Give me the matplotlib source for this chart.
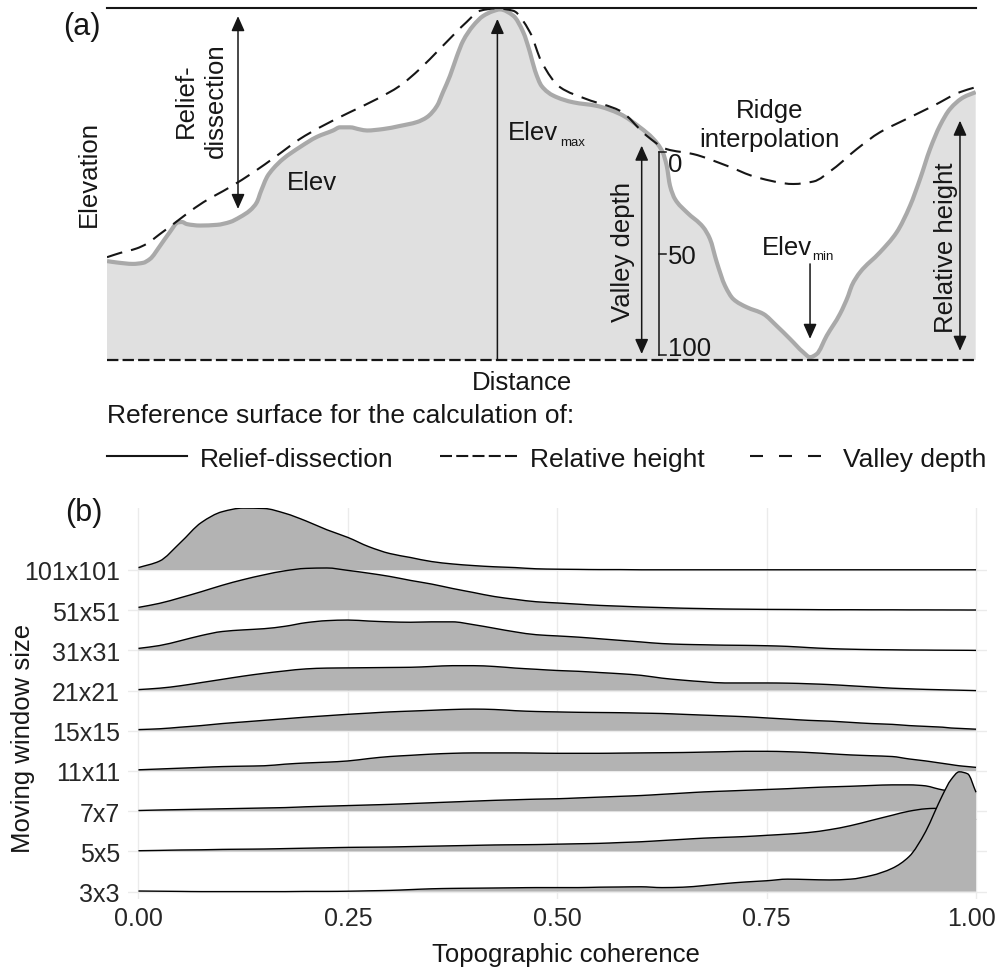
import numpy as np
import matplotlib
matplotlib.use("Agg")
import matplotlib.pyplot as plt
from matplotlib.lines import Line2D
from matplotlib.path import Path
from matplotlib.patches import PathPatch
from matplotlib.transforms import ScaledTranslation

plt.rcParams['font.family'] = ['Liberation Sans', 'DejaVu Sans']
plt.rcParams['lines.scale_dashes'] = False

W, H = 998, 970

# ---------------- panel (a): schematic elevation profile ----------------
profile_dist = [0.0, 1.15, 2.99, 4.14, 4.95, 6.1, 7.25, 8.17, 8.63, 9.21, 10.72, 12.66,
                14.16, 15.31, 16.46, 17.27, 17.61, 17.96, 18.42, 19.11, 20.26, 22.22,
                24.17, 26.02, 26.82, 27.97, 29.12, 29.93, 31.77, 33.73, 35.69, 36.84,
                37.99, 38.68, 39.48, 40.29, 40.98, 42.13, 43.28, 44.43, 45.24, 46.77,
                47.92, 48.69, 49.27, 50.04, 51.38, 53.68, 56.37, 59.05, 61.35, 62.89,
                63.97, 64.43, 64.81, 65.39, 66.73, 68.64, 69.41, 70.19, 71.14, 72.1,
                73.64, 75.55, 77.09, 78.62, 80.15, 80.93, 81.7, 82.85, 84.38, 85.33,
                85.73, 86.68, 88.98, 90.91, 92.44, 93.59, 94.74, 95.89, 97.04, 98.57, 100.0]
profile_elev = [28.1, 27.7, 27.3, 27.6, 28.7, 32.4, 36.4, 39.1, 39.2, 38.6, 38.2, 38.4,
                39.2, 40.6, 42.5, 44.9, 47.2, 49.4, 52.0, 54.3, 57.1, 60.5,
                63.4, 65.2, 66.1, 66.1, 65.5, 65.2, 65.6, 66.5, 67.6, 69.0,
                72.2, 76.1, 80.7, 86.4, 90.6, 94.9, 97.7, 99.1, 99.6, 97.8,
                93.1, 87.4, 82.2, 77.8, 75.1, 73.2, 72.2, 69.9, 66.1, 62.8,
                59.0, 55.2, 49.5, 45.7, 42.0, 37.7, 34.4, 27.8, 21.1, 17.3,
                15.0, 13.1, 9.7, 6.0, 2.2, 0.8, 1.7, 6.9, 13.1, 18.3,
                21.1, 24.9, 30.6, 36.3, 43.8, 51.4, 59.9, 66.6, 71.3, 74.6, 76.1]

ridge_dist = [0.0, 1.5, 3.42, 4.57, 6.1, 7.63, 9.17, 11.08, 14.15, 16.84, 19.53, 22.21,
              24.51, 27.96, 31.04, 33.72, 36.02, 38.32, 41.39, 42.92, 44.88, 46.77,
              48.69, 50.04, 52.15, 55.22, 59.05, 62.13, 64.43, 67.49, 71.34, 74.79,
              79.0, 81.31, 83.61, 86.3, 88.98, 92.06, 95.12, 98.19, 100.0]
ridge_elev = [29.2, 30.4, 31.7, 33.0, 35.8, 38.6, 41.5, 44.8, 49.1, 53.3, 58.0, 62.8,
              66.1, 70.4, 74.1, 77.9, 82.7, 88.4, 96.0, 99.2, 99.9, 99.2,
              93.1, 84.6, 77.5, 74.1, 70.8, 63.7, 59.9, 58.5, 55.2, 51.9,
              50.0, 50.7, 54.3, 59.9, 64.7, 68.5, 72.2, 76.1, 77.5]

relief_level = 100.0      # reference surface for relief-dissection
base_level = 0.0          # reference surface for relative height
scale_ticks = [0, 50, 100]

# ---------------- panel (b): ridgeline densities ----------------
coherence = [0.0, 0.025, 0.05, 0.075, 0.1, 0.125, 0.15, 0.175, 0.2, 0.225, 0.25, 0.275,
             0.3, 0.325, 0.35, 0.375, 0.4, 0.425, 0.45, 0.475, 0.5, 0.525, 0.55, 0.575,
             0.6, 0.625, 0.65, 0.675, 0.7, 0.725, 0.75, 0.775, 0.8, 0.825, 0.85, 0.875,
             0.9, 0.92, 0.94, 0.95, 0.96, 0.97, 0.98, 0.99, 1.0]

window_labels = ['3x3', '5x5', '7x7', '11x11', '15x15', '21x21', '31x31', '51x51', '101x101']

dens_3 = [0.015, 0.01, 0.005, 0.0, 0.0, 0.0, 0.0, 0.0, 0.005, 0.005,
          0.01, 0.02, 0.03, 0.05, 0.07, 0.08, 0.085, 0.09, 0.095, 0.10,
          0.10, 0.10, 0.11, 0.115, 0.12, 0.10, 0.11, 0.15, 0.20, 0.24,
          0.27, 0.31, 0.30, 0.29, 0.31, 0.40, 0.58,
          0.87, 1.50, 1.95, 2.40, 2.78, 2.98, 2.93, 2.47]
dens_5 = [0.017, 0.025, 0.035, 0.04, 0.05, 0.055, 0.06, 0.07, 0.08, 0.09,
          0.10, 0.105, 0.11, 0.12, 0.13, 0.14, 0.15, 0.16, 0.165, 0.17,
          0.18, 0.19, 0.20, 0.22, 0.24, 0.27, 0.30, 0.33, 0.35, 0.37,
          0.40, 0.43, 0.47, 0.54, 0.64, 0.77, 0.90,
          1.00, 1.06, 1.07, 1.06, 1.00, 0.93, 0.86, 0.79]
dens_7 = [0.017, 0.03, 0.04, 0.05, 0.06, 0.07, 0.08, 0.09, 0.11, 0.125,
          0.14, 0.155, 0.17, 0.19, 0.21, 0.23, 0.25, 0.27, 0.285, 0.30,
          0.31, 0.33, 0.35, 0.37, 0.39, 0.42, 0.45, 0.48, 0.50, 0.52,
          0.54, 0.56, 0.585, 0.605, 0.62, 0.64, 0.655,
          0.655, 0.63, 0.58, 0.53, 0.50, 0.47, 0.45, 0.43]
dens_11 = [0.03, 0.05, 0.07, 0.09, 0.11, 0.12, 0.13, 0.17, 0.20, 0.22,
           0.25, 0.31, 0.36, 0.39, 0.42, 0.44, 0.45, 0.45, 0.45, 0.445,
           0.44, 0.44, 0.44, 0.445, 0.45, 0.455, 0.46, 0.47, 0.48, 0.49,
           0.49, 0.48, 0.46, 0.43, 0.40, 0.38, 0.36,
           0.30, 0.25, 0.22, 0.19, 0.16, 0.13, 0.11, 0.09]
dens_15 = [0.03, 0.05, 0.09, 0.13, 0.18, 0.22, 0.26, 0.30, 0.34, 0.375,
           0.41, 0.44, 0.47, 0.49, 0.51, 0.53, 0.54, 0.53, 0.50, 0.48,
           0.47, 0.46, 0.455, 0.45, 0.44, 0.43, 0.41, 0.39, 0.37, 0.35,
           0.32, 0.29, 0.26, 0.24, 0.21, 0.18, 0.16,
           0.13, 0.11, 0.10, 0.09, 0.07, 0.06, 0.05, 0.04]
dens_21 = [0.025, 0.06, 0.12, 0.20, 0.28, 0.36, 0.43, 0.49, 0.54, 0.56,
           0.565, 0.57, 0.575, 0.58, 0.60, 0.62, 0.62, 0.60, 0.56, 0.53,
           0.50, 0.48, 0.45, 0.42, 0.38, 0.31, 0.26, 0.22, 0.19, 0.19,
           0.19, 0.185, 0.17, 0.15, 0.12, 0.09, 0.06,
           0.045, 0.03, 0.025, 0.02, 0.015, 0.01, 0.005, 0.0]
dens_31 = [0.05, 0.12, 0.24, 0.37, 0.47, 0.51, 0.54, 0.60, 0.69, 0.74,
           0.755, 0.73, 0.71, 0.70, 0.71, 0.71, 0.64, 0.55, 0.46, 0.39,
           0.36, 0.33, 0.29, 0.25, 0.21, 0.17, 0.15, 0.14, 0.13, 0.125,
           0.116, 0.10, 0.07, 0.045, 0.03, 0.02, 0.015,
           0.01, 0.008, 0.006, 0.005, 0.004, 0.003, 0.002, 0.0]
dens_51 = [0.07, 0.17, 0.31, 0.46, 0.62, 0.76, 0.88, 0.98, 1.04, 1.05,
           0.99, 0.92, 0.84, 0.74, 0.65, 0.54, 0.44, 0.34, 0.27, 0.21,
           0.18, 0.15, 0.12, 0.10, 0.08, 0.065, 0.05, 0.04, 0.03, 0.025,
           0.02, 0.018, 0.015, 0.012, 0.012, 0.01, 0.01,
           0.008, 0.008, 0.007, 0.007, 0.006, 0.006, 0.005, 0.005]
dens_101 = [0.06, 0.22, 0.68, 1.18, 1.45, 1.54, 1.53, 1.41, 1.22, 1.00,
            0.81, 0.58, 0.41, 0.31, 0.21, 0.15, 0.11, 0.08, 0.06, 0.03,
            0.02, 0.015, 0.01, 0.01, 0.005, 0.005, 0.005, 0.005, 0.005, 0.005,
            0.005, 0.005, 0.005, 0.005, 0.005, 0.005, 0.005,
            0.005, 0.005, 0.005, 0.005, 0.005, 0.005, 0.005, 0.005]

x_ticks = [0.0, 0.25, 0.5, 0.75, 1.0]
x_tick_labels = ['0.00', '0.25', '0.50', '0.75', '1.00']

# ------------------------------------------------------------------------
INK = '#161616'
fig = plt.figure(figsize=(W / 100, H / 100), dpi=100)
fig.patch.set_facecolor('white')


def fx(px):
    return px / W


def fy(py):
    return 1 - py / H


def ftext(px, py, s, **kw):
    kw.setdefault('color', INK)
    return fig.text(fx(px), fy(py), s, **kw)


def rtext(px, py, s, size):
    """Vertical text; (px, py) is the middle of its baseline."""
    return ftext(px, py, s, rotation=90, rotation_mode='anchor',
                 ha='center', va='baseline', fontsize=size)


def curve_path(x, y, base=None):
    """Smooth monotone cubic (Bezier) path through the given points.
    With `base`, the path is closed down to that level for filling."""
    x = np.asarray(x, float)
    y = np.asarray(y, float)
    h = np.diff(x)
    d = np.diff(y) / h
    m = np.zeros_like(y)
    for k in range(1, len(x) - 1):
        if d[k - 1] * d[k] > 0:
            w1 = 2 * h[k] + h[k - 1]
            w2 = h[k] + 2 * h[k - 1]
            m[k] = (w1 + w2) / (w1 / d[k - 1] + w2 / d[k])
    m[0], m[-1] = d[0], d[-1]
    verts = [(x[0], y[0])]
    codes = [Path.MOVETO]
    for k in range(len(x) - 1):
        verts += [(x[k] + h[k] / 3, y[k] + m[k] * h[k] / 3),
                  (x[k + 1] - h[k] / 3, y[k + 1] - m[k + 1] * h[k] / 3),
                  (x[k + 1], y[k + 1])]
        codes += [Path.CURVE4] * 3
    if base is not None:
        verts += [(x[-1], base), (x[0], base), (x[0], y[0])]
        codes += [Path.LINETO, Path.LINETO, Path.CLOSEPOLY]
    return Path(verts, codes)


# ---- panel (a) ----
ax_a = fig.add_axes([fx(107), fy(361), (975.7 - 107) / W, (361 - 9) / H])
ax_a.set_xlim(0, 100)
ax_a.set_ylim(0, 100)
ax_a.axis('off')

ax_a.add_patch(PathPatch(curve_path(profile_dist, profile_elev, base_level),
                         facecolor='#e0e0e0', edgecolor='none', zorder=1))
ax_a.add_patch(PathPatch(curve_path(profile_dist, profile_elev), fill=False,
                         edgecolor='#a9a9a9', lw=3.0, joinstyle='round', zorder=2))
ax_a.add_patch(PathPatch(curve_path(ridge_dist, ridge_elev), fill=False,
                         edgecolor=INK, lw=1.5, ls=(0, (11.5, 6.5)), zorder=3))
ax_a.axhline(base_level, color=INK, lw=1.6, ls=(0, (8.2, 3.0)), clip_on=False, zorder=3)
ax_a.axhline(relief_level, color=INK, lw=1.5, clip_on=False, zorder=3)

AST = dict(color=INK, lw=1.1, shrinkA=0, shrinkB=0, mutation_scale=20)


def varrow(x, y_from, y_to, style):
    ax_a.annotate('', xy=(x, y_to), xytext=(x, y_from), annotation_clip=False,
                  arrowprops=dict(arrowstyle=style, **AST))


both = '<|-|>,head_length=0.45,head_width=0.2'
one = '-|>,head_length=0.45,head_width=0.2'

i_max = int(np.argmax(profile_elev))
i_min = int(np.argmin(profile_elev))
varrow(15.08, 42.9, 97.7, both)                                          # relief-dissection
varrow(profile_dist[i_max] - 0.3, base_level, profile_elev[i_max] - 2.7, one)  # Elev max
varrow(61.55, 1.7, 60.9, both)                                           # valley depth
varrow(profile_dist[i_min], 27.3, profile_elev[i_min] + 5.2, one)        # Elev min
varrow(98.19, 2.6, 68.0, both)                                           # relative height

# valley-depth scale bar
sb_x, sb_top, sb_bot = 63.58, 59.0, 1.3
ax_a.plot([sb_x, sb_x], [sb_top, sb_bot], color=INK, lw=1.1, zorder=4)
for v in scale_ticks:
    ty = sb_top + (sb_bot - sb_top) * v / 100
    ax_a.plot([sb_x, sb_x + 0.8], [ty, ty], color=INK, lw=1.1, zorder=4)
    if v == 0:
        ax_a.annotate(str(v), (sb_x + 1.0, ty), xytext=(0, -13.5), textcoords='offset points',
                      va='baseline', ha='left', fontsize=18.5, color=INK)
    elif v == 100:
        ax_a.annotate(str(v), (sb_x + 1.0, ty), va='baseline', ha='left',
                      fontsize=18.5, color=INK)
    else:
        ax_a.annotate(str(v), (sb_x + 1.0, ty), va='center_baseline', ha='left',
                      fontsize=18.5, color=INK)

# labels in panel (a)
ftext(63, 35, '(a)', fontsize=22)
rtext(96, 174, 'Elevation', 18.5)
rtext(193, 101, 'Relief-', 18.5)
rtext(223, 101, 'dissection', 18.5)
ftext(287, 190, 'Elev', fontsize=18.5, va='baseline')
ftext(508, 140, 'Elev', fontsize=18.5, va='baseline')
ftext(560, 145.5, 'max', fontsize=9.5, va='baseline')
ftext(770, 118, 'Ridge', fontsize=18.5, va='baseline', ha='center')
ftext(769, 146.5, 'interpolation', fontsize=18.5, va='baseline', ha='center')
rtext(630, 252.5, 'Valley depth', 18.5)
ftext(762, 255, 'Elev', fontsize=18.5, va='baseline')
ftext(812, 260, 'min', fontsize=9.5, va='baseline')
rtext(953, 248, 'Relative height', 18.5)
ftext(522, 390, 'Distance', fontsize=18.5, va='baseline', ha='center')

# reference-surface key
ftext(107, 423, 'Reference surface for the calculation of:', fontsize=19, va='baseline')
key_y = 457
fig.add_artist(Line2D([fx(107), fx(187)], [fy(key_y), fy(key_y)], transform=fig.transFigure,
                      color=INK, lw=1.5))
ftext(200, 467, 'Relief-dissection', fontsize=19, va='baseline')
fig.add_artist(Line2D([fx(440), fx(517)], [fy(key_y), fy(key_y)], transform=fig.transFigure,
                      color=INK, lw=1.5, ls=(0, (8.64, 3.06))))
ftext(530, 467, 'Relative height', fontsize=19, va='baseline')
fig.add_artist(Line2D([fx(750), fx(821)], [fy(key_y), fy(key_y)], transform=fig.transFigure,
                      color=INK, lw=1.5, ls=(0, (9.36, 11.52))))
ftext(843, 467, 'Valley depth', fontsize=19, va='baseline')

# ---- panel (b) ----
ax_b = fig.add_axes([fx(128), fy(900), (986.5 - 128) / W, (900 - 509) / H])
ax_b.set_xlim(-0.0125, 1.0125)
ax_b.set_ylim(-0.184, 9.542)
for s in ax_b.spines.values():
    s.set_visible(False)
ax_b.set_axisbelow(True)
ax_b.grid(True, color='#ebebeb', lw=1.0)
ax_b.set_xticks(x_ticks)
ax_b.set_xticklabels(x_tick_labels, fontsize=18)
ax_b.set_yticks(range(len(window_labels)))
ax_b.set_yticklabels(window_labels, fontsize=18)
ax_b.tick_params(axis='both', length=0, labelcolor='#262626')
ax_b.tick_params(axis='y', pad=5.8)
ax_b.tick_params(axis='x', pad=5.0)
# keep the last x label inside the canvas
last = ax_b.get_xticklabels()[-1]
last.set_transform(last.get_transform() + ScaledTranslation(-5 / 100, 0, fig.dpi_scale_trans))

rows = [dens_3, dens_5, dens_7, dens_11, dens_15, dens_21, dens_31, dens_51, dens_101]
n = len(rows)
for i, dens in enumerate(rows):
    top = i + np.asarray(dens)
    z = 10 + 2 * (n - i)
    ax_b.add_patch(PathPatch(curve_path(coherence, top, i), facecolor='#b3b3b3',
                             edgecolor='none', zorder=z))
    ax_b.add_patch(PathPatch(curve_path(coherence, top), fill=False, edgecolor='black',
                             lw=1.0, zorder=z + 1))

ftext(65, 520.5, '(b)', fontsize=22)
rtext(30.5, 738, 'Moving window size', 18.5)
ftext(566, 962, 'Topographic coherence', fontsize=18.5, va='baseline', ha='center')

fig.savefig('out.png', dpi=100, facecolor='white')
